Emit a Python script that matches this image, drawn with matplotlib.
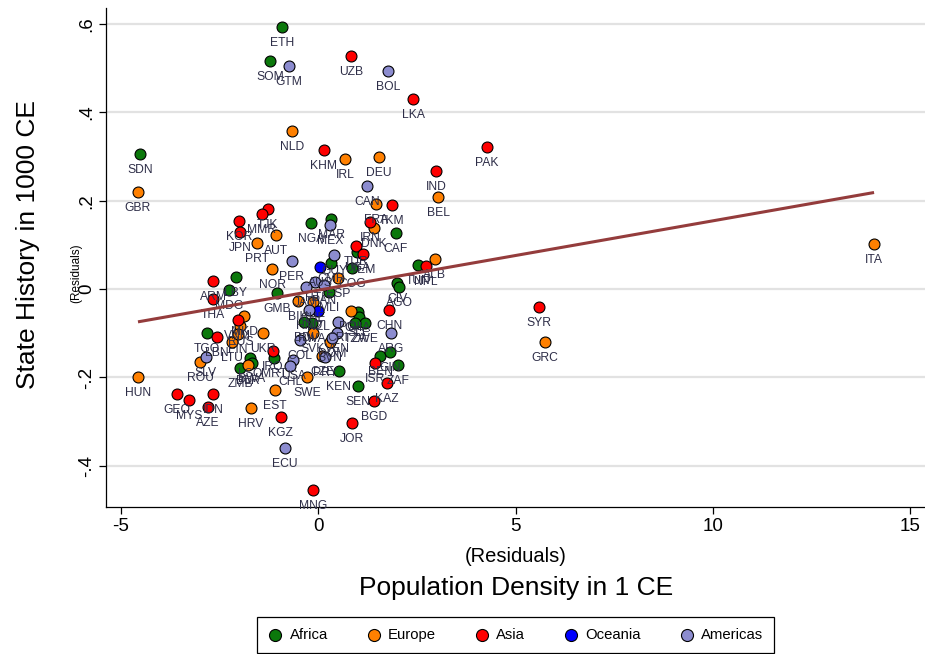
import matplotlib
matplotlib.use("Agg")
import matplotlib.pyplot as plt

plt.rcParams['font.family'] = ['Liberation Sans', 'DejaVu Sans']

# Residual population density (x) and residual state history (y) by country
africa_codes = ["ETH", "SOM", "SDN", "NGA", "MAR", "CAF", "CMR", "UGA", "COG", "TUN",
                "CIV", "AGO", "LBY", "MDG", "GMB", "TGO", "LSO", "BWA", "ZMB", "MRT",
                "GHA", "SLE", "ZWE", "TZA", "RWA", "MLI", "BEN", "GIN", "ZAF", "KEN",
                "SEN", "BDI"]
africa_x = [-0.91, -1.22, -4.51, -0.18, 0.33, 1.97, 0.33, 0.99, 0.86, 2.53,
            2.00, 2.05, -2.08, -2.25, -1.04, -2.81, -1.72, -1.67, -1.97, -1.11,
            1.01, 1.04, 1.19, 0.94, -0.15, 0.28, 1.57, 1.82, 2.03, 0.53,
            1.01, -0.35]
africa_y = [0.593, 0.516, 0.305, 0.149, 0.158, 0.127, 0.059, 0.084, 0.048, 0.054,
            0.014, 0.005, 0.027, -0.002, -0.009, -0.100, -0.156, -0.167, -0.179, -0.156,
            -0.052, -0.063, -0.077, -0.077, -0.077, -0.007, -0.152, -0.143, -0.172, -0.186,
            -0.219, -0.075]

europe_codes = ["NLD", "IRL", "DEU", "BEL", "GBR", "FRA", "DNK", "AUT", "PRT", "NOR",
                "ALB", "ITA", "GRC", "HUN", "ROU", "LTU", "RUS", "FIN", "MKD", "UKR",
                "BIH", "BLR", "EST", "HRV", "SWE", "ESP", "CHE", "POL", "SVK", "SVN",
                "CZE"]
europe_x = [-0.66, 0.68, 1.54, 3.04, -4.56, 1.47, 1.42, -1.06, -1.54, -1.16,
            2.96, 14.08, 5.75, -4.56, -2.99, -2.18, -1.97, -2.03, -1.87, -1.39,
            -0.51, -1.77, -1.09, -1.70, -0.28, 0.51, -0.13, 0.84, -0.13, 0.30,
            0.10]
europe_y = [0.357, 0.294, 0.299, 0.208, 0.219, 0.192, 0.138, 0.122, 0.104, 0.045,
            0.068, 0.102, -0.120, -0.199, -0.165, -0.120, -0.084, -0.102, -0.061, -0.100,
            -0.027, -0.172, -0.229, -0.269, -0.199, 0.025, -0.029, -0.050, -0.100, -0.120,
            -0.152]

asia_codes = ["UZB", "LKA", "KHM", "PAK", "IND", "TKM", "IRN", "TUR", "YEM", "NPL",
              "CHN", "ISR", "KAZ", "BGD", "JOR", "MNG", "KGZ", "SYR", "TJK", "MMR",
              "KOR", "JPN", "ARM", "THA", "VNM", "LBN", "IRQ", "GEO", "MYS", "IDN",
              "AZE"]
asia_x = [0.84, 2.41, 0.15, 4.28, 2.99, 1.87, 1.32, 0.96, 1.14, 2.73,
          1.80, 1.44, 1.75, 1.42, 0.86, -0.13, -0.94, 5.59, -1.27, -1.42,
          -2.00, -1.97, -2.66, -2.66, -2.03, -2.56, -1.14, -3.57, -3.27, -2.66,
          -2.78]
asia_y = [0.527, 0.430, 0.314, 0.321, 0.267, 0.190, 0.152, 0.097, 0.079, 0.052,
          -0.048, -0.167, -0.213, -0.253, -0.303, -0.455, -0.290, -0.041, 0.181, 0.170,
          0.154, 0.129, 0.018, -0.023, -0.070, -0.109, -0.140, -0.238, -0.251, -0.238,
          -0.267]

oceania_codes = ["AUS", "NZL"]
oceania_x = [0.05, 0.00]
oceania_y = [0.050, -0.050]

americas_codes = ["GTM", "BOL", "CAN", "MEX", "PER", "GUY", "HTI", "JAM", "PAN", "HND",
                  "CRI", "COL", "VEN", "DOM", "PRY", "USA", "CHL", "ARG", "ECU", "SLV"]
americas_x = [-0.73, 1.77, 1.24, 0.30, -0.66, 0.41, -0.08, -0.30, 0.15, -0.23,
              0.51, -0.46, 0.48, 0.35, 0.18, -0.63, -0.71, 1.85, -0.84, -2.84]
americas_y = [0.505, 0.493, 0.233, 0.145, 0.063, 0.077, 0.016, 0.005, 0.009, -0.048,
              -0.075, -0.115, -0.100, -0.111, -0.154, -0.161, -0.174, -0.100, -0.360, -0.154]

# Linear fit of y on x
fit_slope = 0.0157
fit_intercept = -0.0025

x_ticks = [-5, 0, 5, 10, 15]
y_ticks = [-0.4, -0.2, 0.0, 0.2, 0.4, 0.6]
y_tick_labels = ["-.4", "-.2", "0", ".2", ".4", ".6"]

groups = [
    ("Africa", africa_codes, africa_x, africa_y, "#0b780b"),
    ("Europe", europe_codes, europe_x, europe_y, "#ff8000"),
    ("Asia", asia_codes, asia_x, asia_y, "#ff0000"),
    ("Oceania", oceania_codes, oceania_x, oceania_y, "#0000ff"),
    ("Americas", americas_codes, americas_x, americas_y, "#8c8ccf"),
]

W, H = 925, 654
fig = plt.figure(figsize=(W / 100, H / 100), dpi=100)
ax = fig.add_axes([106 / W, 1 - 507 / H, (W - 106) / W, (507 - 8) / H])
ax.set_xlim(-5.37, 15.37)
ax.set_ylim(-0.493, 0.636)

label_color = "#2e2e48"
handles = []
for name, codes, xs, ys, color in groups:
    h = ax.scatter(xs, ys, s=62, c=color, edgecolors="black", linewidths=0.8,
                   zorder=3, label=name)
    handles.append(h)
    for code, x, y in zip(codes, xs, ys):
        ax.annotate(code, (x, y), xytext=(0, -11.5), textcoords="offset points",
                    ha="center", va="center", fontsize=8.7, color=label_color,
                    zorder=4)

all_x = africa_x + europe_x + asia_x + oceania_x + americas_x
x0, x1 = min(all_x), max(all_x)
ax.plot([x0, x1], [fit_intercept + fit_slope * x0, fit_intercept + fit_slope * x1],
        color="#943c3c", linewidth=2.2, zorder=5, solid_capstyle="butt")

ax.set_xticks(x_ticks)
ax.set_xticklabels([str(t) for t in x_ticks])
ax.set_yticks(y_ticks)
ax.set_yticklabels(y_tick_labels, rotation=90, va="center")
ax.tick_params(axis="both", direction="out", length=5, width=0.9,
               labelsize=13.5, colors="black", pad=3)
ax.yaxis.grid(True, color="#e2e2e2", linewidth=1.6)
ax.set_axisbelow(True)
for side in ("top", "right"):
    ax.spines[side].set_visible(False)
for side in ("left", "bottom"):
    ax.spines[side].set_linewidth(0.9)

fig.text(516 / W, 1 - 557 / H, "(Residuals)", ha="center", va="center", fontsize=14.5)
fig.text(516 / W, 1 - 588 / H, "Population Density in 1 CE", ha="center",
         va="center", fontsize=19)
fig.text(28 / W, 1 - 244 / H, "State History in 1000 CE", ha="center", va="center",
         rotation=90, fontsize=19)
fig.text(76 / W, 1 - 273 / H, "(Residuals)", ha="center", va="center",
         rotation=90, fontsize=8.5)

leg = fig.legend(handles=handles, loc="upper center",
                 bbox_to_anchor=(515.5 / W, 1 - 617 / H), ncol=5, frameon=True,
                 fancybox=False, edgecolor="black", framealpha=1, fontsize=10.7,
                 handlelength=1.0, handletextpad=0.45, columnspacing=2.6,
                 borderpad=0.75, borderaxespad=0, scatterpoints=1, markerscale=1.1)
leg.get_frame().set_linewidth(0.9)

fig.savefig("out.png", dpi=100)
